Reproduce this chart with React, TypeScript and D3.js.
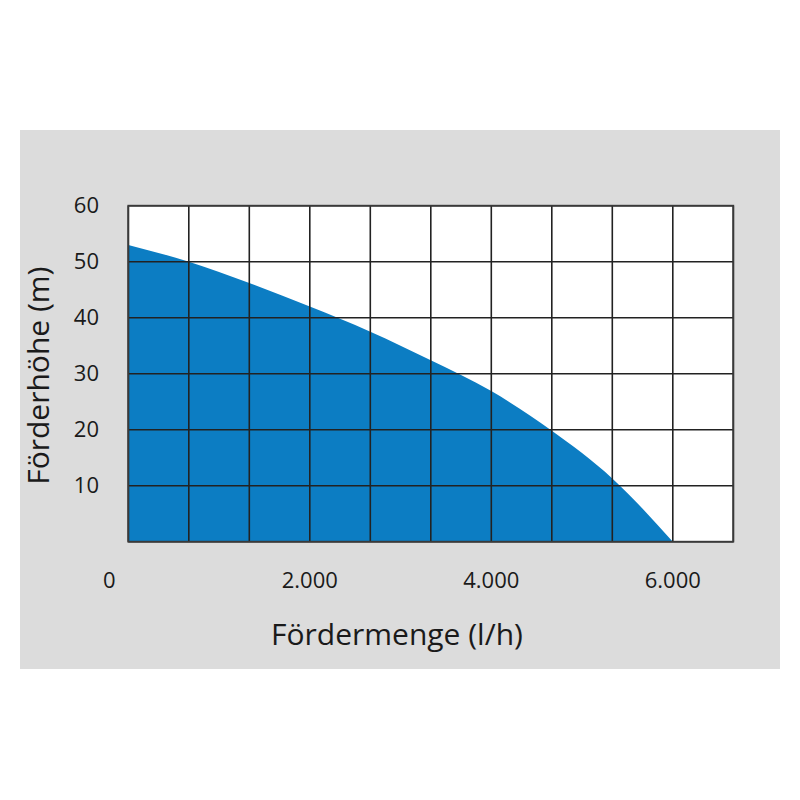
import React from "react";
import * as d3 from "d3";

const flowLh = [0, 667, 1333, 2000, 2667, 3333, 4000, 4667, 5333, 6000];
const headM = [53, 50, 46.2, 42, 37.5, 32.4, 26.9, 19.8, 11.3, 0];
const xTickValues = [0, 2000, 4000, 6000];
const yTickValues = [10, 20, 30, 40, 50, 60];
const xTitle = "Fördermenge (l/h)";
const yTitle = "Förderhöhe (m)";

const W = 800, H = 800;
const plot = { left: 128.3, right: 733.3, top: 205.7, bottom: 541.7 };
const font = "'Open Sans', sans-serif";

export default function App() {
  const x = d3.scaleLinear().domain([0, 20000 / 3]).range([plot.left, plot.right]);
  const y = d3.scaleLinear().domain([0, 60]).range([plot.bottom, plot.top]);
  const data = flowLh.map((q, i) => ({ q, h: headM[i] }));
  const area = d3
    .area<{ q: number; h: number }>()
    .x((d) => x(d.q))
    .y0(y(0))
    .y1((d) => y(d.h))
    .curve(d3.curveMonotoneX);
  const colLines = d3.range(0, 11).map((i) => (i * 2000) / 3);
  const rowLines = d3.range(0, 70, 10);
  const fmt = d3.formatLocale({ decimal: ",", thousands: ".", grouping: [3], currency: ["", "€"] }).format(",d");

  return (
    <svg width={W} height={H} style={{ position: "absolute", left: 0, top: 0, background: "#fff" }}>
      <rect x={20} y={130} width={760} height={539} fill="#dcdcdc" />
      <rect x={plot.left} y={plot.top} width={plot.right - plot.left} height={plot.bottom - plot.top} fill="#fff" />
      <path d={area(data) || ""} fill="#0c7dc3" />
      {colLines.map((v, i) => (
        <line key={"c" + i} x1={x(v)} x2={x(v)} y1={plot.top} y2={plot.bottom} stroke="#222" strokeWidth={1.6} />
      ))}
      {rowLines.map((v, i) => (
        <line key={"r" + i} x1={plot.left} x2={plot.right} y1={y(v)} y2={y(v)} stroke="#222" strokeWidth={1.6} />
      ))}
      <rect x={plot.left} y={plot.top} width={plot.right - plot.left} height={plot.bottom - plot.top} fill="none" stroke="#3a3a3a" strokeWidth={1.8} />
      {yTickValues.map((v) => (
        <text key={"y" + v} x={99} y={y(v)} dy="0.35em" textAnchor="end" fontFamily={font} fontSize={22} fill="#1a1a1a">
          {v}
        </text>
      ))}
      {xTickValues.map((v) => (
        <text key={"x" + v} x={x(v) + (v === 0 ? -19 : 0)} y={588} textAnchor="middle" fontFamily={font} fontSize={22} fill="#1a1a1a">
          {fmt(v)}
        </text>
      ))}
      <text x={397} y={645} textAnchor="middle" fontFamily={font} fontSize={30} fill="#1a1a1a">
        {xTitle}
      </text>
      <text transform={`translate(49,${(plot.top + plot.bottom) / 2 + 2}) rotate(-90)`} textAnchor="middle" fontFamily={font} fontSize={30} fill="#1a1a1a">
        {yTitle}
      </text>
    </svg>
  );
}
